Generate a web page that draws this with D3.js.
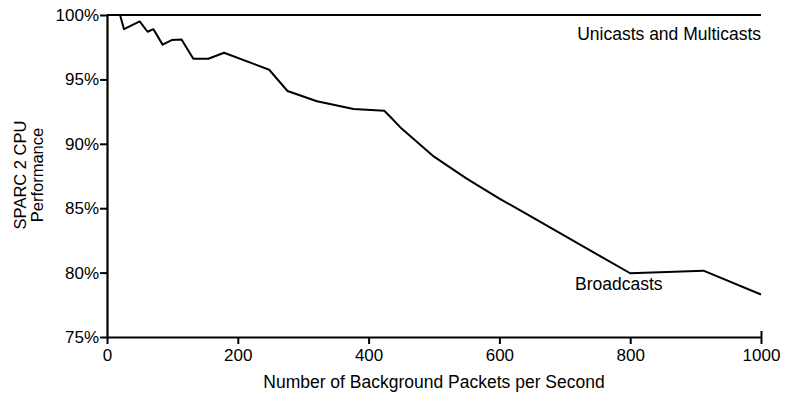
<!DOCTYPE html>
<html lang="en"><head>
<meta charset="utf-8">
<title>sparc performance</title>
<script src="https://cdn.jsdelivr.net/npm/d3@7"></script>
<style>
  body { margin: 0; background: #fff; }
  text { font-family: "Liberation Sans", Arial, sans-serif; fill: #000; }
</style>
</head>
<body>
<svg width="785" height="395"></svg>
<script>
// data
var unicastX = [0, 1000];
var unicastY = [100, 100];

var broadcastX = [20, 26, 50, 62, 71, 85, 99, 114, 132, 155, 179, 248, 276, 321, 377, 424,
                  435, 450, 500, 550, 600, 650, 700, 750, 800, 912, 1000];
var broadcastY = [100, 98.9, 99.5, 98.7, 98.9, 97.7, 98.05, 98.1, 96.6, 96.6, 97.07, 95.75, 94.1, 93.3, 92.7, 92.57,
                  92.0, 91.2, 89.0, 87.3, 85.75, 84.3, 82.85, 81.4, 79.95, 80.15, 78.3];

var xTicks = [0, 200, 400, 600, 800, 1000];
var yTicks = [75, 80, 85, 90, 95, 100];

var svg = d3.select("svg");
var x = d3.scaleLinear().domain([0, 1000]).range([107, 761]);
var y = d3.scaleLinear().domain([75, 100]).range([337, 15]);

var xAxis = svg.append("g")
  .attr("transform", "translate(0,337)")
  .call(d3.axisBottom(x).tickValues(xTicks).tickSize(7).tickSizeOuter(0).tickPadding(5)
    .tickFormat(d3.format("d")));
var yAxis = svg.append("g")
  .attr("transform", "translate(107,0)")
  .call(d3.axisLeft(y).tickValues(yTicks).tickSize(7).tickSizeOuter(0).tickPadding(1)
    .tickFormat(function(d){ return d + "%"; }));

[xAxis, yAxis].forEach(function(g){
  g.select(".domain").attr("stroke", "#000").attr("stroke-width", 2.2);
  g.selectAll(".tick line").attr("stroke", "#000").attr("stroke-width", 2);
  g.selectAll(".tick text").attr("font-size", 17).attr("fill", "#000")
    .style("font-family", "'Liberation Sans', Arial, sans-serif");
});
// the 1000 tick also pokes up above the axis
xAxis.selectAll(".tick line").filter(function(d){ return d === 1000; }).attr("y1", -6);

var line = d3.line()
  .x(function(d){ return x(d[0]); })
  .y(function(d){ return y(d[1]); });

svg.append("path")
  .datum(d3.zip(unicastX, unicastY))
  .attr("fill", "none").attr("stroke", "#000").attr("stroke-width", 2.2)
  .attr("d", line);

svg.append("path")
  .datum(d3.zip(broadcastX, broadcastY))
  .attr("fill", "none").attr("stroke", "#000").attr("stroke-width", 2)
  .attr("stroke-linejoin", "round")
  .attr("d", line);

svg.append("text").attr("x", 761).attr("y", 40).attr("text-anchor", "end")
  .attr("font-size", 17.5).text("Unicasts and Multicasts");
svg.append("text").attr("x", 575).attr("y", 290)
  .attr("font-size", 17.5).text("Broadcasts");

svg.append("text").attr("x", 434).attr("y", 388).attr("text-anchor", "middle")
  .attr("font-size", 17.5).text("Number of Background Packets per Second");

var yl = svg.append("text").attr("text-anchor", "middle")
  .attr("transform", "translate(26,175) rotate(-90)")
  .attr("font-size", 16.5);
yl.append("tspan").attr("x", 0).attr("dy", 0).text("SPARC 2 CPU");
yl.append("tspan").attr("x", 0).attr("dy", 17).text("Performance");
</script>
</body>
</html>
